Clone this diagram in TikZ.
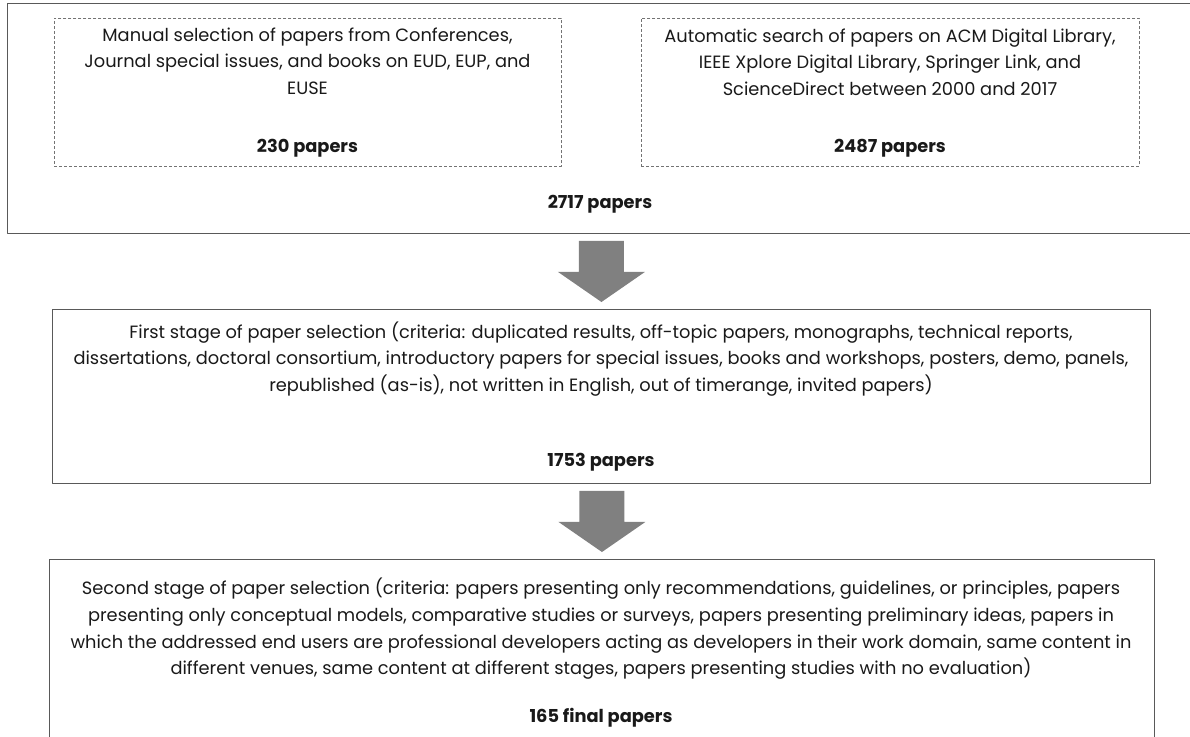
\documentclass[tikz,border=0pt]{standalone}
\usepackage{fontspec}
\setmainfont{Poppins}
\usetikzlibrary{calc}
\begin{document}
\begin{tikzpicture}[x=1pt,y=-1pt,line join=round,
	frame/.style={draw=black!65,line width=.9pt,inner sep=0pt,anchor=north west},
	dashframe/.style={frame,draw=black!55,line width=.7pt,dash pattern=on 3pt off 2pt},
	txt/.style={align=center,inner sep=0pt,text=black!90,font=\fontsize{17.8}{26.7}\selectfont},
	count/.style={txt,font=\fontsize{17.8}{26.7}\selectfont\bfseries},
	blockarrow/.style={fill=black!50,draw=none}]
	\useasboundingbox (0,0) rectangle (1190,736);
	\def\shaft{22.5} \def\head{43.5} \def\gap{7}
	% boxes
	\node[frame,minimum width=1188,minimum height=230] (search) at (7,3) {};
	\node[dashframe,minimum width=507,minimum height=148] (manual) at (54,18) {};
	\node[dashframe,minimum width=498,minimum height=148] (auto) at (641,18) {};
	\node[frame,minimum width=1098,minimum height=174] (stage1) at (52,309) {};
	\node[frame,minimum width=1105,minimum height=190] (stage2) at (49,559) {};
	% texts
	\node[txt] (manualtxt) at (307.5,61) {Manual selection of papers from Conferences,\\Journal special issues, and books on EUD, EUP, and\\EUSE};
	\node[count] (manualn) at (307.5,148) {230 papers};
	\node[txt] (autotxt) at (890,62) {Automatic search of papers on ACM Digital Library,\\IEEE Xplore Digital Library, Springer Link, and\\ScienceDirect between 2000 and 2017};
	\node[count] (auton) at (890,148) {2487 papers};
	\node[count] (searchn) at (600,204) {2717 papers};
	\node[txt] (stage1txt) at (601,359) {First stage of paper selection (criteria: duplicated results, off-topic papers, monographs, technical reports,\\dissertations, doctoral consortium, introductory papers for special issues, books and workshops, posters, demo, panels,\\republished (as-is), not written in English, out of timerange, invited papers)};
	\node[count] (stage1n) at (601,462) {1753 papers};
	\node[txt] (stage2txt) at (601,629) {Second stage of paper selection (criteria: papers presenting only recommendations, guidelines, or principles, papers\\presenting only conceptual models, comparative studies or surveys, papers presenting preliminary ideas, papers in\\which the addressed end users are professional developers acting as developers in their work domain, same content in\\different venues, same content at different stages, papers presenting studies with no evaluation)};
	\node[count] (stage2n) at (601,718) {165 final papers};
	% arrows
	\foreach \a/\b in {search/stage1,stage1/stage2}
		\fill[blockarrow] ($(\b.north)+(-\shaft,0)$) coordinate (tmp) 
			($(\a.south-|tmp)+(0,\gap)$) -- ++(2*\shaft,0) -- ++(0,31) -- ++(\head-\shaft,0)
			-- ($(\b.north)+(0,-\gap)$) -- ($(\a.south-|\b.north)+(-\head,\gap+31)$) -- ++(\head-\shaft,0) -- cycle;
\end{tikzpicture}
\end{document}
